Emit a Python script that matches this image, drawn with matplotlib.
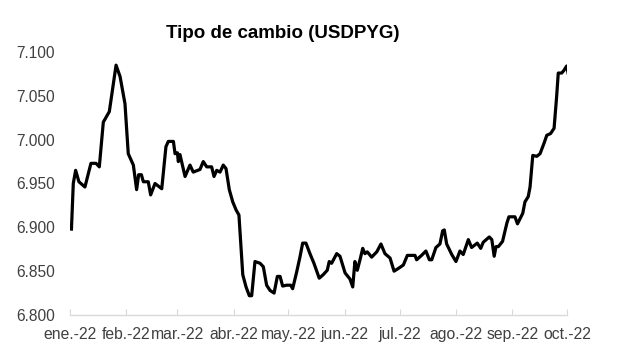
import matplotlib
matplotlib.use("Agg")
import matplotlib.pyplot as plt
import matplotlib.dates as mdates
import numpy as np
import pandas as pd

plt.rcParams['font.family'] = ['Liberation Sans', 'DejaVu Sans']

# days elapsed since 1 Jan 2022 and USDPYG value
day_offsets = [0.8, 1.8, 3.1, 4.9, 8.2, 11.5, 14.3, 16.1, 18.3, 21.6, 25.3, 27.5, 30.2,
               32.0, 34.8, 36.6, 37.7, 39.2, 40.3, 43.0, 44.3, 46.7, 50.4, 52.7, 54.0,
               56.8, 57.7, 59.0, 59.5, 60.4, 63.2, 65.9, 67.7, 71.4, 73.2, 75.1, 77.8,
               79.1, 80.6, 82.4, 84.2, 85.7, 87.5, 89.4, 91.2, 92.8, 94.9, 96.7, 98.5,
               99.8, 101.6, 104.4, 106.2, 108.0, 109.9, 112.1, 113.9, 115.4, 116.8,
               119.0, 121.2, 122.3, 124.5, 126.3, 127.8, 129.6, 131.8, 134.0, 136.9,
               139.1, 141.3, 142.4, 143.7, 146.5, 148.3, 151.1, 153.8, 155.3, 156.5,
               157.8, 159.3, 160.8, 162.0, 163.3, 165.7, 168.5, 170.8, 173.0, 175.8,
               178.0, 180.3, 183.1, 185.3, 189.5, 190.4, 193.1, 195.5, 197.4, 198.7,
               201.0, 203.2, 204.7, 205.6, 206.9, 209.7, 212.0, 214.2, 216.0, 218.8,
               220.6, 223.7, 225.6, 227.0, 230.3, 231.7, 233.0, 234.0, 235.3, 237.6,
               240.0, 241.1, 244.4, 245.8, 248.7, 249.9, 251.7, 252.7, 254.2, 256.4,
               258.2, 260.4, 261.9, 264.0, 265.9, 267.3, 268.2, 270.1, 271.3, 272.8,
               273.7]
usdpyg = [6.898, 6.950, 6.965, 6.952, 6.946, 6.973, 6.973, 6.969, 7.020, 7.032, 7.085,
          7.072, 7.041, 6.984, 6.971, 6.943, 6.960, 6.960, 6.952, 6.952, 6.937, 6.950,
          6.944, 6.992, 6.998, 6.998, 6.984, 6.985, 6.975, 6.983, 6.958, 6.971, 6.963,
          6.966, 6.975, 6.969, 6.969, 6.958, 6.965, 6.963, 6.971, 6.967, 6.943, 6.929,
          6.920, 6.914, 6.846, 6.832, 6.822, 6.822, 6.861, 6.859, 6.855, 6.834, 6.828,
          6.825, 6.844, 6.844, 6.833, 6.834, 6.834, 6.830, 6.849, 6.866, 6.882, 6.882,
          6.870, 6.859, 6.842, 6.846, 6.851, 6.861, 6.859, 6.870, 6.867, 6.848, 6.841,
          6.832, 6.861, 6.851, 6.863, 6.876, 6.870, 6.872, 6.866, 6.872, 6.881, 6.870,
          6.865, 6.850, 6.853, 6.857, 6.868, 6.868, 6.863, 6.868, 6.873, 6.863, 6.863,
          6.877, 6.881, 6.896, 6.897, 6.881, 6.869, 6.861, 6.873, 6.869, 6.886, 6.877,
          6.882, 6.876, 6.883, 6.889, 6.886, 6.867, 6.878, 6.878, 6.884, 6.905, 6.912,
          6.912, 6.904, 6.916, 6.929, 6.935, 6.946, 6.982, 6.981, 6.984, 6.996, 7.005,
          7.007, 7.013, 7.049, 7.076, 7.076, 7.079, 7.084, 7.075]

tick_dates = ['2022-01-01', '2022-02-01', '2022-03-01', '2022-04-01', '2022-05-01',
              '2022-06-01', '2022-07-01', '2022-08-01', '2022-09-01', '2022-10-01']
tick_labels = ['ene.-22', 'feb.-22', 'mar.-22', 'abr.-22', 'may.-22',
               'jun.-22', 'jul.-22', 'ago.-22', 'sep.-22', 'oct.-22']
y_ticks = [6.800, 6.850, 6.900, 6.950, 7.000, 7.050, 7.100]
title = 'Tipo de cambio (USDPYG)'

start = pd.Timestamp('2022-01-01')
dates = [start + pd.Timedelta(days=d) for d in day_offsets]

fig = plt.figure(figsize=(6.17, 3.62), dpi=100)
ax = fig.add_axes([70/617, 47/362, 497/617, 263/362])

ax.plot(dates, usdpyg, color='black', lw=2.3, solid_joinstyle='round')

ax.set_xlim(pd.Timestamp(tick_dates[0]), pd.Timestamp(tick_dates[-1]))
ax.set_ylim(6.8, 7.1)
ax.set_yticks(y_ticks)
ax.set_yticklabels([f'{v:.3f}' for v in y_ticks])
ax.set_xticks([pd.Timestamp(t) for t in tick_dates])
ax.set_xticklabels(tick_labels)

for s in ['top', 'right', 'left']:
    ax.spines[s].set_visible(False)
ax.spines['bottom'].set_color('#d9d9d9')
ax.spines['bottom'].set_linewidth(1.0)

ax.tick_params(axis='y', length=0, pad=11, labelsize=11.2, colors='#404040')
ax.tick_params(axis='x', direction='in', length=4, color='#d9d9d9', pad=8.5,
               labelsize=11.3, labelcolor='#404040')

fig.text(283/617, 1 - 33/362, title, ha='center', va='center',
         fontsize=13.5, fontweight='bold', color='black')

fig.savefig('out.png', dpi=100)
